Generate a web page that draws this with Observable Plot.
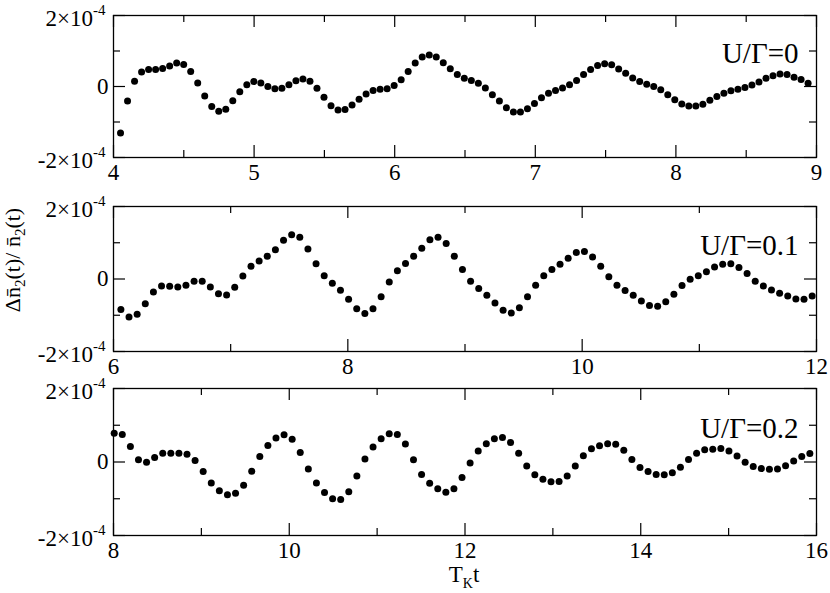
<!DOCTYPE html>
<html><head><meta charset="utf-8">
<script src="https://cdn.jsdelivr.net/npm/d3@7"></script>
<script src="https://cdn.jsdelivr.net/npm/@observablehq/plot@0.6"></script>
<style>
body{margin:0;background:#fff;}
#chart{position:relative;width:830px;height:593px;overflow:hidden;background:#fff;font-family:"Liberation Serif",serif;}
#chart svg{position:absolute;left:0;overflow:visible;background:transparent;}
#chart svg text{font-family:"Liberation Serif",serif;}
</style></head><body><div id="chart"></div>
<script>
// values in units of 1e-4
const labels = ["U/Γ=0", "U/Γ=0.1", "U/Γ=0.2"];
const yMajor = [-2, 0, 2];
const yMinor = [-1, 1];
const yTickLabels = ["-2×10", "0", "2×10"];
const yExponent = "-4";

const xMajor0 = [4, 5, 6, 7, 8, 9];
const xMinor0 = [4.5, 5.5, 6.5, 7.5, 8.5];
const xMajor1 = [6, 8, 10, 12];
const xMinor1 = [7, 9, 11];
const xMajor2 = [8, 10, 12, 14, 16];
const xMinor2 = [9, 11, 13, 15];

// sampling times: first time and uniform step of each series
const t0 = [4.05, 6.063, 8.008];
const dt = [0.0499, 0.06941, 0.09205];

const values0 = [-1.31, -0.41, 0.15, 0.41, 0.48, 0.48, 0.51, 0.58, 0.66, 0.62,
  0.42, 0.10, -0.27, -0.56, -0.70, -0.64, -0.40, -0.15, 0.05, 0.14,
  0.10, 0.00, -0.06, -0.05, 0.05, 0.16, 0.21, 0.15, -0.05, -0.30,
  -0.54, -0.66, -0.65, -0.52, -0.36, -0.21, -0.11, -0.08, -0.06, 0.03,
  0.19, 0.42, 0.66,
  0.83, 0.89, 0.83, 0.67, 0.50, 0.34, 0.23, 0.17, 0.09, -0.04,
  -0.23, -0.41, -0.60, -0.72, -0.72, -0.63, -0.48, -0.32, -0.19, -0.11,
  -0.04, 0.05, 0.17, 0.34, 0.48, 0.59, 0.64, 0.61, 0.49, 0.37,
  0.24, 0.14, 0.06, 0.00, -0.09, -0.23, -0.37, -0.49, -0.55, -0.55,
  -0.50, -0.39, -0.28, -0.19, -0.12, -0.08, -0.03, 0.04, 0.13, 0.23,
  0.30, 0.35, 0.34, 0.26, 0.20, 0.09];

const values1 = [-0.84, -1.05, -0.97, -0.68, -0.36, -0.19, -0.20, -0.22, -0.17, -0.06,
  -0.06, -0.22, -0.41, -0.44, -0.23, 0.08, 0.35, 0.50, 0.63, 0.81,
  1.07, 1.22, 1.15, 0.83, 0.42, 0.09, -0.12, -0.31, -0.56, -0.82,
  -0.95, -0.82, -0.49, -0.08, 0.23, 0.43, 0.63,
  0.85, 1.08, 1.15, 0.98, 0.63, 0.26, -0.06, -0.26, -0.45, -0.66,
  -0.86, -0.94, -0.79, -0.49, -0.17, 0.09, 0.26, 0.41, 0.57, 0.73,
  0.76, 0.61, 0.35, 0.06, -0.17, -0.32, -0.45, -0.61, -0.73, -0.75,
  -0.63, -0.42, -0.18, -0.01, 0.09, 0.20, 0.33, 0.41, 0.42, 0.32,
  0.15, -0.06, -0.19, -0.30, -0.39, -0.47, -0.55, -0.56, -0.47];

const values2 = [0.78, 0.75, 0.42, 0.06, -0.01, 0.12, 0.24, 0.24, 0.24, 0.21,
  0.04, -0.26, -0.57, -0.78, -0.89, -0.85, -0.63, -0.25, 0.15, 0.45,
  0.65, 0.74, 0.62, 0.26, -0.19, -0.57, -0.83, -1.00, -1.02, -0.81,
  -0.38, 0.08, 0.41, 0.63, 0.77, 0.75, 0.49, 0.06,
  -0.34, -0.58, -0.73, -0.82, -0.73, -0.42, -0.03, 0.30, 0.50, 0.63,
  0.67, 0.53, 0.24, -0.11, -0.35, -0.47, -0.54, -0.53, -0.38, -0.11,
  0.17, 0.36, 0.44, 0.50, 0.48, 0.32, 0.07, -0.15, -0.26, -0.34,
  -0.35, -0.29, -0.14, 0.07, 0.24, 0.33, 0.35, 0.37, 0.30, 0.16,
  -0.01, -0.12, -0.18, -0.20, -0.19, -0.10, 0.03, 0.15, 0.23];

const FONT = "Liberation Serif";
const W = 830, ML = 113, MR = 14, FW = W - ML - MR;

const panels = [
  {top: 0, height: 190, mt: 15, mb: 33, vals: values0, i: 0, domain: [4, 9], major: xMajor0, minor: xMinor0, pad: 6},
  {top: 190, height: 190, mt: 16, mb: 29, vals: values1, i: 1, domain: [6, 12], major: xMajor1, minor: xMinor1, pad: 6},
  {top: 380, height: 213, mt: 8, mb: 58, vals: values2, i: 2, domain: [8, 16], major: xMajor2, minor: xMinor2, pad: 6}
];

const chart = document.getElementById("chart");
const svgs = [];

for (const p of panels) {
  const H = p.height - p.mt - p.mb;
  const data = p.vals.map((v, k) => ({t: t0[p.i] + k * dt[p.i], v}));
  const tick = {stroke: "#000", strokeWidth: 1.2};
  const svg = Plot.plot({
    width: W, height: p.height,
    marginLeft: ML, marginRight: MR, marginTop: p.mt, marginBottom: p.mb,
    style: {fontFamily: FONT, fontSize: "23px", color: "#000", background: "transparent", overflow: "visible"},
    x: {domain: p.domain, label: null},
    y: {domain: [-2, 2], label: null},
    marks: [
      Plot.tickX(p.major, {x: d => d, insetTop: H - 12, ...tick}),
      Plot.tickX(p.major, {x: d => d, insetBottom: H - 12, ...tick}),
      Plot.tickX(p.minor, {x: d => d, insetTop: H - 7, ...tick}),
      Plot.tickX(p.minor, {x: d => d, insetBottom: H - 7, ...tick}),
      Plot.tickY(yMajor, {y: d => d, insetRight: FW - 12, ...tick}),
      Plot.tickY(yMajor, {y: d => d, insetLeft: FW - 12, ...tick}),
      Plot.tickY(yMinor, {y: d => d, insetRight: FW - 7, ...tick}),
      Plot.tickY(yMinor, {y: d => d, insetLeft: FW - 7, ...tick}),
      Plot.frame({stroke: "#000", strokeWidth: 1.3}),
      Plot.axisX(p.major, {anchor: "bottom", tickSize: 0, tickPadding: p.pad, fontSize: 23, fontFamily: FONT,
        label: null, tickFormat: d => String(d)}),
      Plot.axisY(yMajor, {anchor: "left", tickSize: 0, tickPadding: 8, fontSize: 23, fontFamily: FONT, label: null,
        tickFormat: d => yTickLabels[yMajor.indexOf(d)]}),
      Plot.dot(data, {x: "t", y: "v", r: 3.5, fill: "#000"}),
      Plot.text([labels[p.i]], {x: () => p.domain[1], y: () => 1, text: d => d, textAnchor: "end",
        dx: -18, dy: 3, fontSize: 29, fontFamily: FONT, fill: "#000"})
    ]
  });
  svg.style.top = p.top + "px";
  svg.setAttribute("font-family", FONT);
  // superscript exponents on y tick labels
  d3.select(svg).selectAll('g[aria-label="y-axis tick label"] text').each(function() {
    const t = d3.select(this);
    const s = t.text();
    if (s === "0") { t.attr("dx", 3); return; }
    t.text(null);
    t.append("tspan").attr("dy", 3.5).text(s);
    t.append("tspan").attr("dy", -11).attr("font-size", 15).text(yExponent);
  });
  chart.appendChild(svg);
  svgs.push(svg);
}

// y-axis title on the middle panel
{
  const g = d3.select(svgs[1]).append("text")
    .attr("transform", "translate(20,70) rotate(-90)")
    .attr("text-anchor", "middle")
    .attr("font-family", FONT).attr("font-size", 22).attr("fill", "#000");
  g.append("tspan").text("Δn\u0304");
  g.append("tspan").attr("dy", 5).attr("font-size", 15).text("2");
  g.append("tspan").attr("dy", -5).text("(t)/ n\u0304");
  g.append("tspan").attr("dy", 5).attr("font-size", 15).text("2");
  g.append("tspan").attr("dy", -5).text("(t)");
}
// x-axis title on the bottom panel
{
  const g = d3.select(svgs[2]).append("text")
    .attr("x", 464).attr("y", 202)
    .attr("text-anchor", "middle")
    .attr("font-family", FONT).attr("font-size", 23).attr("fill", "#000");
  g.append("tspan").text("T");
  g.append("tspan").attr("dy", 6).attr("font-size", 14).text("K");
  g.append("tspan").attr("dy", -6).text("t");
}
</script></body></html>
